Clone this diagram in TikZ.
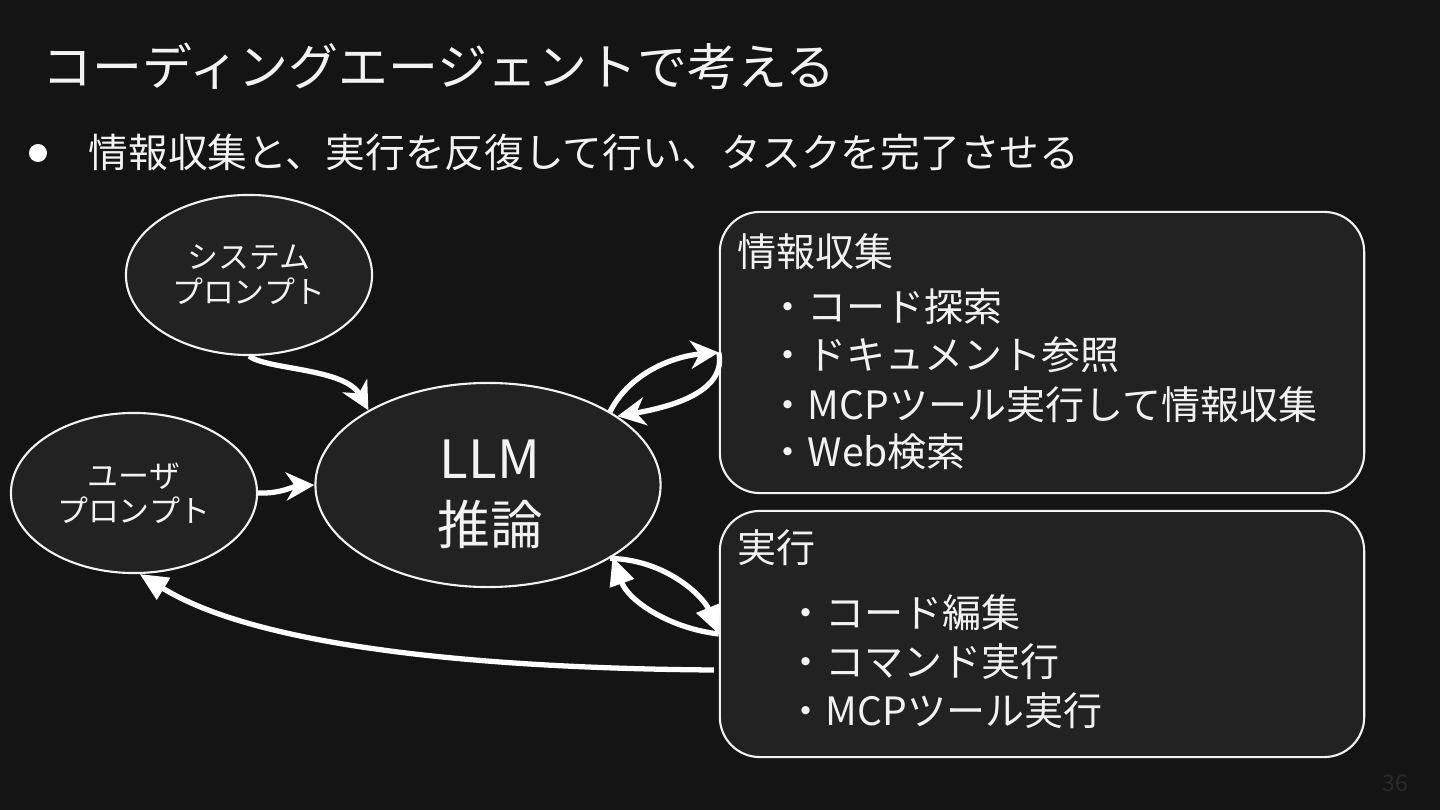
\documentclass[tikz,border=0pt]{standalone}
\usepackage{fontspec}
\setmainfont{Noto Sans CJK JP}
\usepackage{tikz}
\usetikzlibrary{arrows.meta,calc,positioning,shapes.geometric}
\definecolor{slidebg}{HTML}{141414}
\definecolor{shapefill}{HTML}{222222}
\definecolor{textwhite}{HTML}{F2F2F2}
\definecolor{pagegray}{HTML}{2A2A2A}
\newcommand{\slidetitlefont}{\fontsize{14.2pt}{17pt}\selectfont}
\newcommand{\leadfont}{\fontsize{11.3pt}{14pt}\selectfont}
\newcommand{\boxfont}{\fontsize{11.1pt}{13.8pt}\selectfont}
\newcommand{\promptfont}{\fontsize{8.8pt}{10pt}\selectfont}
\newcommand{\llmfont}{\fontsize{15pt}{18.8pt}\selectfont}
\tikzset{
    promptnode/.style={ellipse,draw=textwhite,line width=0.6pt,fill=shapefill,
        minimum width=2.46cm,minimum height=1.6cm,inner sep=0pt,align=center,
        text=textwhite,font=\promptfont},
    llmnode/.style={ellipse,draw=textwhite,line width=0.6pt,fill=shapefill,
        minimum width=3.45cm,minimum height=2.04cm,inner sep=0pt},
    llmlabel/.style={inner sep=0pt,align=center,text=textwhite,font=\llmfont},
    taskbox/.style={draw=textwhite,line width=0.6pt,fill=shapefill,
        rounded corners=0.4cm,minimum width=6.44cm,inner sep=0pt},
    boxtext/.style={anchor=west,inner sep=0pt,text=textwhite,font=\boxfont},
    flowarrow/.style={draw=white,line width=1.5pt,-{Stealth[length=8pt,width=8pt,inset=2.5pt]}},
    backarrow/.style={draw=white,line width=1.5pt,-{Triangle[length=8pt,width=7pt]}},
    every node/.style={text=textwhite}
}

\begin{document}
\begin{tikzpicture}[x=0.01cm,y=-0.01cm]
    % 背景
    \fill[slidebg] (0,0) rectangle (1440,810);
    \useasboundingbox (0,0) rectangle (1440,810);

    % タイトル
    \node[anchor=west,inner sep=0pt,font=\slidetitlefont] (title) at (42,66)
        {コーディングエージェントで考える};
    \node[circle,fill=white,inner sep=0pt,minimum size=0.18cm] (bullet) at (38,153) {};
    \node[anchor=west,inner sep=0pt,font=\leadfont] (lead) at (88,152)
        {情報収集と、実行を反復して行い、タスクを完了させる};

    % 入力とLLM
    \node[promptnode] (sys) at (249,275) {システム\\プロンプト};
    \node[promptnode] (user) at (134,493) {ユーザ\\プロンプト};
    \node[llmnode] (llm) at (488,485) {};
    \node[llmlabel] (llmtext) at (490,494) {LLM\\推論};

    % 情報収集
    \node[taskbox,minimum height=2.81cm] (info) at (1042,352.5) {};
    \node[boxtext] (infotitle) at (737,252) {情報収集};
    \node[boxtext] (info1) at (768,307) {・コード探索};
    \node[boxtext] (info2) at (768,355) {・ドキュメント参照};
    \node[boxtext] (info3) at (768,405) {・MCPツール実行して情報収集};
    \node[boxtext] (info4) at (768,452) {・Web検索};

    % 実行
    \node[taskbox,minimum height=2.46cm] (exec) at (1042,634) {};
    \node[boxtext] (exectitle) at (737,548) {実行};
    \node[boxtext] (exec1) at (786,613) {・コード編集};
    \node[boxtext] (exec2) at (786,662) {・コマンド実行};
    \node[boxtext] (exec3) at (786,711) {・MCPツール実行};

    \coordinate (execout) at ($(exec.west)+(-5,36)$);

    % 矢印
    \draw[flowarrow] (sys.south) .. controls (268,370) and (345,368) .. (llm.148);
    \draw[flowarrow] (user.east) .. controls (280,494) and (295,486) .. (llm.west);
    \draw[flowarrow] (llm.31) .. controls (630,372) and (675,356) .. (info.west);
    \draw[flowarrow] (info.west) .. controls (726,388) and (682,405) .. (llm.28);
    \draw[backarrow] (llm.-31) .. controls (668,560) and (704,598) .. (exec.west);
    \draw[backarrow] (exec.west) .. controls (668,628) and (628,600) .. (llm.-30);
    \draw[backarrow] (execout) .. controls (450,668) and (250,642) .. (user.-86);

    % ページ番号
    \node[text=pagegray,font=\fontsize{6.5pt}{8pt}\selectfont] (page) at (1395,783) {36};
\end{tikzpicture}
\end{document}
